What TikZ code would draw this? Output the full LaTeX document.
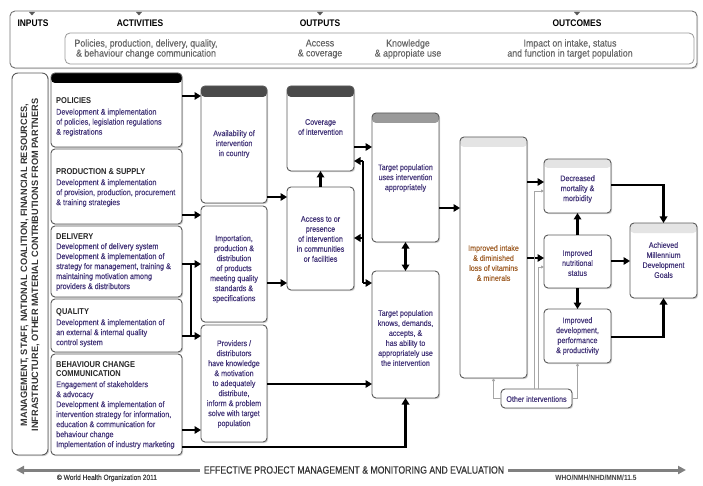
\documentclass[tikz,border=0pt]{standalone}
\usepackage{fontspec}
\setmainfont{Liberation Sans}[FakeStretch=0.88]
\newfontfamily\medsans{Liberation Sans}[FakeStretch=0.88,FakeBold=0.35]
\newfontfamily\plainsans{Liberation Sans}
\newfontfamily\effsans{Liberation Sans}[FakeStretch=0.83,FakeBold=0.3]
\usetikzlibrary{arrows.meta,fit,shadows}
\definecolor{txt}{HTML}{45377A}
\definecolor{ora}{HTML}{A0602A}
\definecolor{edge}{HTML}{5A5A5A}
\definecolor{hdark}{HTML}{4A4A4A}
\definecolor{hmid}{HTML}{9A9A9A}
\definecolor{hlight}{HTML}{E4E4E4}
\definecolor{itxt}{HTML}{666666}
\newcommand\ttl[1]{{\color{black!85}\fontsize{8.5}{10}\selectfont\rmfamily\bfseries #1}}
\begin{document}
\begin{tikzpicture}[x=1pt,y=-1pt,
  box/.style={draw=edge, line width=0.9pt, rounded corners=4pt, fill=white,
    inner sep=0pt, outer sep=0pt,
    drop shadow={shadow xshift=1.2pt,shadow yshift=-1.2pt,opacity=0.35}},
  hdr/.style 2 args={path picture={\fill[#1] (path picture bounding box.north west)
    rectangle ([yshift=-#2]path picture bounding box.north east);}},
  hbox/.style={draw=black!55, line width=0.9pt, rounded corners=5pt, fill=white,
    inner sep=0pt, outer sep=0pt,
    drop shadow={shadow xshift=1.2pt,shadow yshift=-1.2pt,opacity=0.3}},
  ibox/.style={draw=black!40, line width=0.8pt, rounded corners=5pt, fill=white,
    inner sep=0pt, outer sep=0pt},
  hlab/.style={font=\fontsize{9.6}{11}\selectfont\bfseries, text=black, inner sep=0pt},
  htxt/.style={font=\medsans\fontsize{10}{10}\selectfont, text=itxt, align=center, inner sep=0pt},
  ltext/.style={align=left, anchor=north west, font=\medsans\fontsize{8.2}{10}\selectfont,
    text=txt, inner sep=0pt},
  ctext/.style={align=center, font=\medsans\fontsize{8.1}{10}\selectfont, text=txt, inner sep=0pt},
  conn/.style={draw=black, line width=2.3pt, -{Triangle[length=6.5pt,width=7.5pt]}},
  bconn/.style={draw=black, line width=2.3pt,
    {Triangle[length=6.5pt,width=7.5pt]}-{Triangle[length=6.5pt,width=7.5pt]}},
  plain/.style={draw=black, line width=2.3pt},
  thin/.style={draw=black!35, line width=0.8pt, -{Triangle[length=3pt,width=3pt]}},
  garrow/.style={draw=black!50, line width=3pt, -{Triangle[length=8pt,width=8pt]}}
]
\useasboundingbox (0,0) rectangle (703,486);

% ---------- header ----------
\node[hbox, fit={(10,11) (697,68)}] (hdrbox) {};
\node[ibox, fit={(65,33) (694,64)}] (inner) {};
\foreach \x in {32,139,320,577}
  \fill[black!65] (\x-3,12) -- (\x+3,12) -- (\x,15.5) -- cycle;
\node[hlab] (hin) at (33,23) {INPUTS};
\node[hlab] (hact) at (140,23) {ACTIVITIES};
\node[hlab] (hout) at (320,23) {OUTPUTS};
\node[hlab] (hoc) at (577,23) {OUTCOMES};
\node[htxt] (t1) at (146,49) {Policies, production, delivery, quality,\\\& behaviour change communication};
\node[htxt] (t2) at (320,49) {Access\\\& coverage};
\node[htxt] (t3) at (408,49) {Knowledge\\\& appropiate use};
\node[htxt] (t4) at (570,49) {Impact on intake, status\\and function in target population};

% ---------- boxes ----------
\node[box, rounded corners=6pt, fit={(12,73) (48,455)}] (leftv) {};
\node[box, hdr={black}{10pt}, fit={(51,73) (182,147)}] (pol) {};
\node[box, fit={(51,149) (182,224)}] (prod) {};
\node[box, fit={(51,226) (182,297)}] (deliv) {};
\node[box, fit={(51,299) (182,352)}] (qual) {};
\node[box, fit={(51,354) (182,455)}] (bcc) {};

\node[box, hdr={hdark}{11pt}, fit={(201,86) (267,203)}] (avail) {};
\node[box, fit={(201,206) (267,322)}] (import) {};
\node[box, fit={(201,325) (267,442)}] (prov) {};

\node[box, hdr={hdark}{11pt}, fit={(287,86) (354,171)}] (cov) {};
\node[box, fit={(287,187) (354,290)}] (access) {};

\node[box, hdr={hmid}{10pt}, fit={(372,113) (439,242)}] (uses) {};
\node[box, fit={(372,271) (439,398)}] (knows) {};

\node[box, hdr={hlight}{10pt}, fit={(460,137) (527,378)}] (intake) {};

\node[box, hdr={hlight}{9pt}, fit={(544,159) (611,213)}] (mort) {};
\node[box, fit={(544,235) (611,288)}] (nutr) {};
\node[box, fit={(544,309) (611,363)}] (devel) {};

\node[box, hdr={hlight}{10pt}, fit={(630,223) (697,298)}] (mdg) {};

\node[box, fit={(501,389) (572,408)}] (other) {};

% ---------- connectors ----------
\draw[conn] (pol.east |- 0,96) -- (avail.west |- 0,96);
\draw[conn] (prod.east |- 0,215) -- (import.west |- 0,215);
\draw[conn] (deliv.east |- 0,264) -- (import.west |- 0,264);
\draw[conn] (qual.east |- 0,336) -- (prov.west |- 0,336);
\coordinate (vb1) at (191,264);
\coordinate (vb2) at (191,336);
\draw[plain] (vb1) -- (vb2);
\draw[conn] (bcc.east |- 0,430) -- (prov.west |- 0,430);
\draw[conn, rounded corners=0pt] (bcc.east |- 0,447) -| (knows.south);

\draw[conn] (avail.east |- 0,197) -- (access.west |- 0,197);
\draw[conn] (import.east |- 0,283) -- (access.west |- 0,283);
\draw[conn] (access.north) -- (cov.south);
\draw[conn] (cov.east |- 0,147) -- (uses.west |- 0,147);

\coordinate (jt) at (363,161);
\coordinate (jm) at (363,238);
\coordinate (jb) at (363,283);
\draw[plain] (jt) -- (jb);
\draw[conn] (jt) -- (cov.east |- jt);
\draw[conn] (jm) -- (access.east |- jm);
\draw[conn] (jb) -- (knows.west |- jb);

\draw[conn] (prov.east |- 0,384) -- (knows.west |- 0,384);
\draw[bconn] (uses.south) -- (knows.north);
\draw[conn] (uses.east |- 0,208) -- (intake.west |- 0,208);
\draw[conn] (intake.east |- 0,182) -- (mort.west |- 0,182);
\draw[conn] (intake.east |- 0,258) -- (nutr.west |- 0,258);
\draw[conn] (nutr.north) -- (mort.south);
\draw[conn] (nutr.south) -- (devel.north);
\draw[conn] (mort.east |- 0,185) -| (mdg.north);
\draw[conn] (nutr.east |- 0,261) -- (mdg.west |- 0,261);
\draw[conn] (devel.east |- 0,337) -| (mdg.south);

\draw[thin] (other.west) -| (intake.south);
\draw[thin] (other.east) -| (devel.south);
\draw[thin] (other.north -| 534,0) |- (mort.west |- 0,191);
\draw[thin] (other.north -| 538,0) |- (nutr.west |- 0,267);

% ---------- texts ----------
\node[rotate=90, align=center, font=\plainsans\bfseries\fontsize{9.2}{11}\selectfont,
  text=black!80, inner sep=0pt] (lvt) at (30,265)
  {MANAGEMENT, STAFF, NATIONAL COALITION, FINANCIAL RESOURCES,\\
   INFRASTRUCTURE, OTHER MATERIAL CONTRIBUTIONS FROM PARTNERS};

\node[ltext] (polt) at (56,97) {\ttl{POLICIES}\\[1.5pt]
  Development \& implementation\\of policies, legislation regulations\\\& registrations};
\node[ltext] (prodt) at (56,168) {\ttl{PRODUCTION \& SUPPLY}\\[1pt]
  Development \& implementation\\of provision, production, procurement\\\& training strategies};
\node[ltext] (delivt) at (56,233) {\ttl{DELIVERY}\\
  Development of delivery system\\Development \& implementation of\\strategy for management, training \&\\maintaining motivation among\\providers \& distributors};
\node[ltext] (qualt) at (56,308) {\ttl{QUALITY}\\[1pt]
  Development \& implementation of\\an external \& internal quality\\control system};
\node[ltext] (bcct) at (56,361) {\ttl{BEHAVIOUR CHANGE}\\[-1pt]\ttl{COMMUNICATION}\\[1pt]
  Engagement of stakeholders\\\& advocacy\\Development \& implementation of\\intervention strategy for information,\\education \& communication for\\behaviour change\\Implementation of industry marketing};

\node[ctext] (availt) at (234,144) {Availability of\\intervention\\in country};
\node[ctext] (importt) at (234,269) {Importation,\\production \&\\distribution\\of products\\meeting quality\\standards \&\\specifications};
\node[ctext] (provt) at (234,384) {Providers /\\distributors\\have knowledge\\\& motivation\\to adequately\\distribute,\\inform \& problem\\solve with target\\population};
\node[ctext] (covt) at (320.5,127) {Coverage\\of intervention};
\node[ctext] (accesst) at (320.5,239) {Access to or\\presence\\of intervention\\in communities\\or facilities};
\node[ctext] (usest) at (405.5,178) {Target population\\uses intervention\\appropriately};
\node[ctext] (knowst) at (405.5,338) {Target population\\knows, demands,\\accepts, \&\\has ability to\\appropriately use\\the intervention};
\node[ctext, text=ora] (intaket) at (493.5,263) {Improved intake\\\& diminished\\loss of vitamins\\\& minerals};
\node[ctext] (mortt) at (577.5,189) {Decreased\\mortality \&\\morbidity};
\node[ctext] (nutrt) at (577.5,263) {Improved\\nutritional\\status};
\node[ctext] (develt) at (577.5,336) {Improved\\development,\\performance\\\& productivity};
\node[ctext] (mdgt) at (663.5,260) {Achieved\\Millennium\\Development\\Goals};
\node[ctext] (othert) at (536.5,399) {Other interventions};

% ---------- bottom ----------
\node[font=\effsans\fontsize{10.5}{12}\selectfont, text=black!80, inner sep=4pt] (eff) at (354,470)
  {EFFECTIVE PROJECT MANAGEMENT \& MONITORING AND EVALUATION};
\coordinate (bl) at (16,470);
\coordinate (br) at (686,470);
\draw[garrow] (eff.west) -- (bl);
\draw[garrow] (eff.east) -- (br);
\node[font=\medsans\fontsize{7.5}{9}\selectfont, text=black!75, inner sep=0pt] (copy) at (107,478)
  {\textcopyright{} World Health Organization 2011};
\node[font=\fontsize{7.5}{9}\selectfont\bfseries, text=black!75, inner sep=0pt] (who) at (596,478)
  {WHO/NMH/NHD/MNM/11.5};
\end{tikzpicture}
\end{document}
